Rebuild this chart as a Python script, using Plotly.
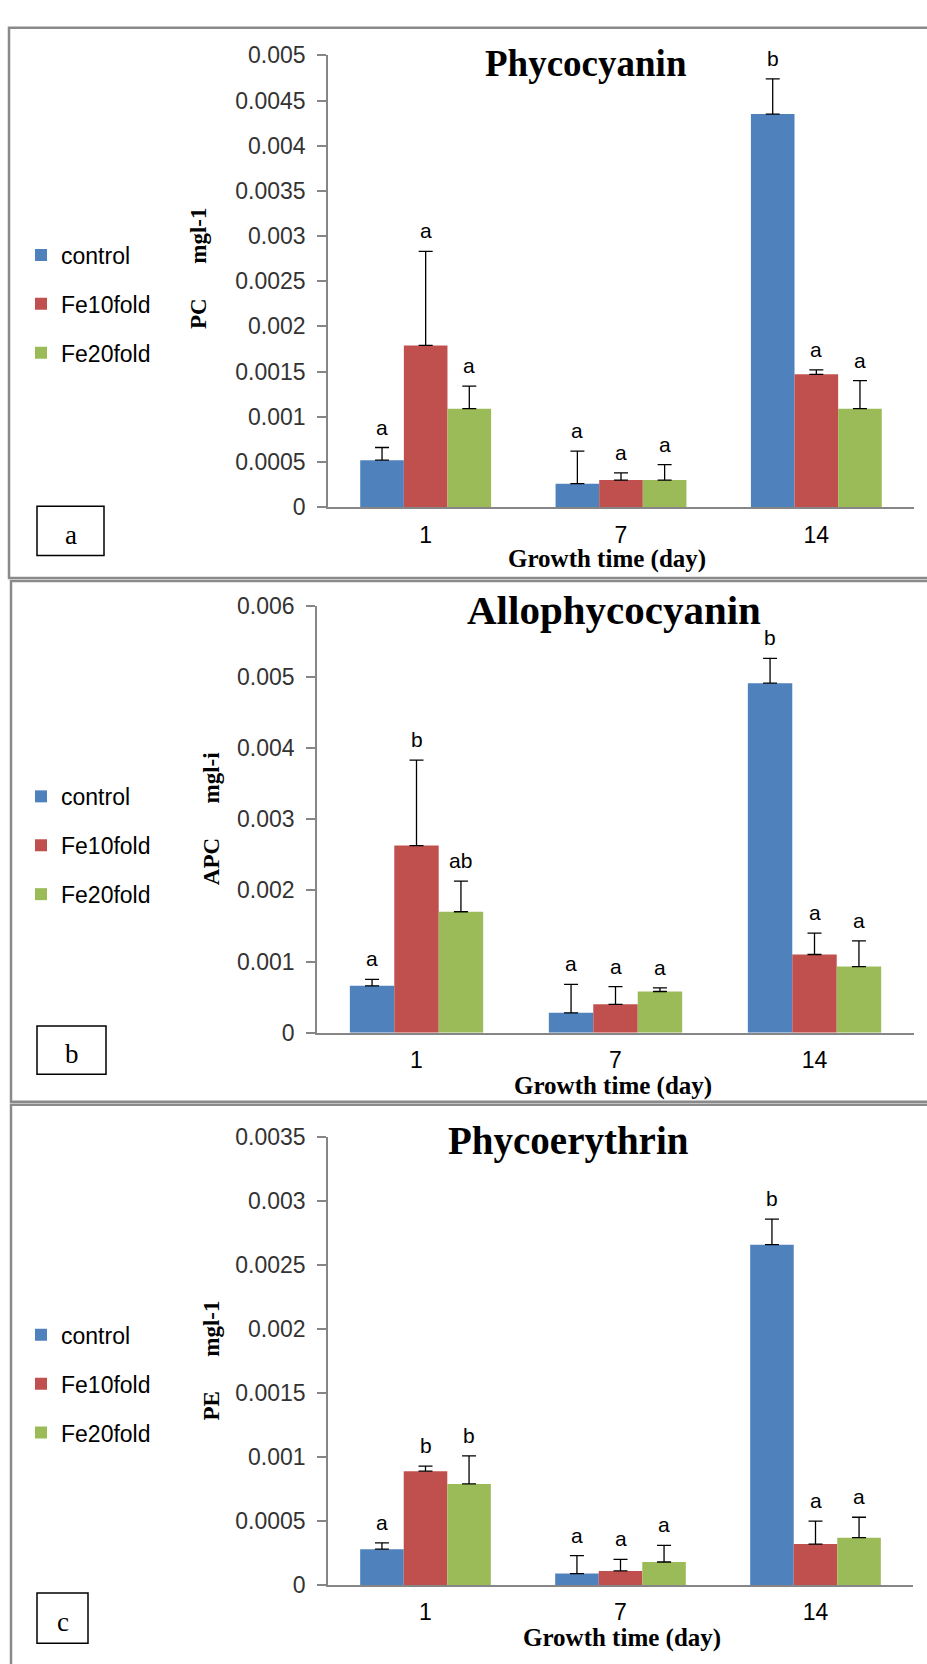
import plotly.graph_objects as go

W, H = 927, 1664

days = ["1", "7", "14"]
series_names = ["control", "Fe10fold", "Fe20fold"]
series_colors = ["#4F81BD", "#C0504D", "#9BBB59"]

# Phycocyanin (PC)
pc_control = [0.00052, 0.00026, 0.00435]
pc_fe10 = [0.00179, 0.00030, 0.00147]
pc_fe20 = [0.00109, 0.00030, 0.00109]
pc_err_control = [0.00014, 0.00036, 0.00039]
pc_err_fe10 = [0.00104, 0.00008, 0.00005]
pc_err_fe20 = [0.00025, 0.00017, 0.00031]
pc_let_control = ["a", "a", "b"]
pc_let_fe10 = ["a", "a", "a"]
pc_let_fe20 = ["a", "a", "a"]
pc_ticks = [0, 0.0005, 0.001, 0.0015, 0.002, 0.0025, 0.003, 0.0035, 0.004, 0.0045, 0.005]
pc_ticktext = ["0", "0.0005", "0.001", "0.0015", "0.002", "0.0025", "0.003", "0.0035", "0.004", "0.0045", "0.005"]

# Allophycocyanin (APC)
apc_control = [0.00066, 0.00028, 0.00491]
apc_fe10 = [0.00263, 0.00040, 0.00110]
apc_fe20 = [0.00170, 0.00058, 0.00093]
apc_err_control = [0.00009, 0.00040, 0.00035]
apc_err_fe10 = [0.00120, 0.00025, 0.00030]
apc_err_fe20 = [0.00043, 0.00005, 0.00036]
apc_let_control = ["a", "a", "b"]
apc_let_fe10 = ["b", "a", "a"]
apc_let_fe20 = ["ab", "a", "a"]
apc_ticks = [0, 0.001, 0.002, 0.003, 0.004, 0.005, 0.006]
apc_ticktext = ["0", "0.001", "0.002", "0.003", "0.004", "0.005", "0.006"]

# Phycoerythrin (PE)
pe_control = [0.00028, 0.00009, 0.00266]
pe_fe10 = [0.00089, 0.00011, 0.00032]
pe_fe20 = [0.00079, 0.00018, 0.00037]
pe_err_control = [0.00005, 0.00014, 0.00020]
pe_err_fe10 = [0.00004, 0.00009, 0.00018]
pe_err_fe20 = [0.00022, 0.00013, 0.00016]
pe_let_control = ["a", "a", "b"]
pe_let_fe10 = ["b", "a", "a"]
pe_let_fe20 = ["b", "a", "a"]
pe_ticks = [0, 0.0005, 0.001, 0.0015, 0.002, 0.0025, 0.003, 0.0035]
pe_ticktext = ["0", "0.0005", "0.001", "0.0015", "0.002", "0.0025", "0.003", "0.0035"]

titles = ["Phycocyanin", "Allophycocyanin", "Phycoerythrin"]
NB = "\u00a0" * 6
ytitles = ["PC" + NB + "mgl-1", "APC" + NB + "mgl-i", "PE" + NB + "mgl-1"]
xtitle = "Growth time (day)"
panel_tags = ["a", "b", "c"]
yranges = [0.005, 0.006, 0.0035]

panels = [
    dict(vals=[pc_control, pc_fe10, pc_fe20], errs=[pc_err_control, pc_err_fe10, pc_err_fe20],
         lets=[pc_let_control, pc_let_fe10, pc_let_fe20], ticks=pc_ticks, ticktext=pc_ticktext,
         xd=(328, 914), y0=502, ytop=43, title_c=(586, 51), title_size=37, xt_c=(607, 555),
         yt_c=(199, 260), leg_y=224, box=(37, 501, 104, 551), border=(9, 15, 4000, 574)),
    dict(vals=[apc_control, apc_fe10, apc_fe20], errs=[apc_err_control, apc_err_fe10, apc_err_fe20],
         lets=[apc_let_control, apc_let_fe10, apc_let_fe20], ticks=apc_ticks, ticktext=apc_ticktext,
         xd=(317, 914), y0=1036, ytop=602, title_c=(614, 606), title_size=41, xt_c=(613, 1090),
         yt_c=(211, 819), leg_y=774, box=(37, 1029, 106, 1078), border=(11, 577, 4000, 1106)),
    dict(vals=[pe_control, pe_fe10, pe_fe20], errs=[pe_err_control, pe_err_fe10, pe_err_fe20],
         lets=[pe_let_control, pe_let_fe10, pe_let_fe20], ticks=pe_ticks, ticktext=pe_ticktext,
         xd=(328, 913), y0=1597, ytop=1142, title_c=(568, 1146), title_size=39, xt_c=(622, 1651),
         yt_c=(212, 1369), leg_y=1321, box=(37, 1605, 88, 1656), border=(11, 1109, 4000, 1800)),
]

BARGAP = 0.33
SANS = "Liberation Sans, Arial, sans-serif"
SERIF = "Liberation Serif, Times New Roman, serif"
AXIS_COLOR = "#868686"


def px(x):
    return x / W


def py(y):
    return 1 - y / H


fig = go.Figure()
annotations = []
shapes = []
layout = {}

for p, pan in enumerate(panels):
    sfx = "" if p == 0 else str(p + 1)
    xa, ya = "x" + sfx, "y" + sfx
    leg = "legend" + sfx
    bw = (1 - BARGAP) / 3
    for j in range(3):
        fig.add_trace(go.Bar(
            x=days, y=pan["vals"][j], name=series_names[j],
            marker=dict(color=series_colors[j], line=dict(width=0)),
            error_y=dict(type="data", array=pan["errs"][j], arrayminus=[0, 0, 0], symmetric=False,
                         color="black", thickness=1.3, width=7),
            xaxis=xa, yaxis=ya, legend=leg, legendgroup=f"g{p}{j}", showlegend=True,
        ))
        for i in range(3):
            annotations.append(dict(
                x=i + (j - 1) * bw, y=pan["vals"][j][i] + pan["errs"][j][i],
                xref=xa, yref=ya, text=pan["lets"][j][i], showarrow=False,
                yanchor="bottom", yshift=7, font=dict(family=SANS, size=21, color="black"),
            ))
    layout["xaxis" + sfx] = dict(
        domain=[px(pan["xd"][0]), px(pan["xd"][1])], anchor=ya, type="category",
        showline=True, linecolor=AXIS_COLOR, linewidth=1.5, ticks="", showgrid=False,
        tickfont=dict(family=SANS, size=23, color="black"), ticklabelstandoff=6, zeroline=False,
    )
    layout["yaxis" + sfx] = dict(
        domain=[py(pan["y0"]), py(pan["ytop"])], anchor=xa, range=[0, yranges[p]],
        tickvals=pan["ticks"], ticktext=pan["ticktext"], showline=True, linecolor=AXIS_COLOR,
        linewidth=1.5, ticks="outside", ticklen=9, tickcolor=AXIS_COLOR, tickwidth=1.5,
        showgrid=False, zeroline=False, ticklabelstandoff=7,
        tickfont=dict(family=SANS, size=23, color="#333333"),
    )
    layout[leg] = dict(
        x=px(21), y=py(pan["leg_y"]), xanchor="left", yanchor="top", orientation="v",
        font=dict(family=SANS, size=23, color="black"), bgcolor="rgba(0,0,0,0)",
        tracegroupgap=16, itemclick=False,
    )
    annotations.append(dict(x=px(pan["title_c"][0]), y=py(pan["title_c"][1]), xref="paper", yref="paper",
                            text=f"<b>{titles[p]}</b>", showarrow=False, xanchor="center", yanchor="middle",
                            font=dict(family=SERIF, size=pan["title_size"], color="black")))
    annotations.append(dict(x=px(pan["xt_c"][0]), y=py(pan["xt_c"][1]), xref="paper", yref="paper",
                            text=f"<b>{xtitle}</b>", showarrow=False, xanchor="center", yanchor="middle",
                            font=dict(family=SERIF, size=25, color="black")))
    annotations.append(dict(x=px(pan["yt_c"][0]), y=py(pan["yt_c"][1]), xref="paper", yref="paper",
                            text=f"<b>{ytitles[p]}</b>", showarrow=False, xanchor="center", yanchor="middle",
                            textangle=-90, font=dict(family=SERIF, size=23, color="black")))
    bx = pan["box"]
    shapes.append(dict(type="rect", xref="paper", yref="paper", x0=px(bx[0]), x1=px(bx[2]),
                       y0=py(bx[3]), y1=py(bx[1]), line=dict(color="black", width=1.5)))
    annotations.append(dict(x=px((bx[0] + bx[2]) / 2), y=py((bx[1] + bx[3]) / 2 + 4), xref="paper",
                            yref="paper", text=panel_tags[p], showarrow=False, xanchor="center",
                            yanchor="middle", font=dict(family=SERIF, size=27, color="black")))
    bd = pan["border"]
    shapes.append(dict(type="rect", xref="paper", yref="paper", x0=px(bd[0]), x1=px(bd[2]),
                       y0=py(bd[3]), y1=py(bd[1]), line=dict(color="#8a8a8a", width=2.5), layer="below"))

fig.update_layout(
    width=W, height=H, margin=dict(l=0, r=0, t=0, b=0), autosize=False,
    paper_bgcolor="white", plot_bgcolor="rgba(0,0,0,0)",
    barmode="group", bargap=BARGAP, bargroupgap=0,
    annotations=annotations, shapes=shapes, **layout,
)

fig.write_html(
    "out.html",
    config={"displayModeBar": False},
    post_script=("document.body.style.margin='0';document.body.style.overflow='hidden';"
                 "document.documentElement.style.overflow='hidden';"),
)
